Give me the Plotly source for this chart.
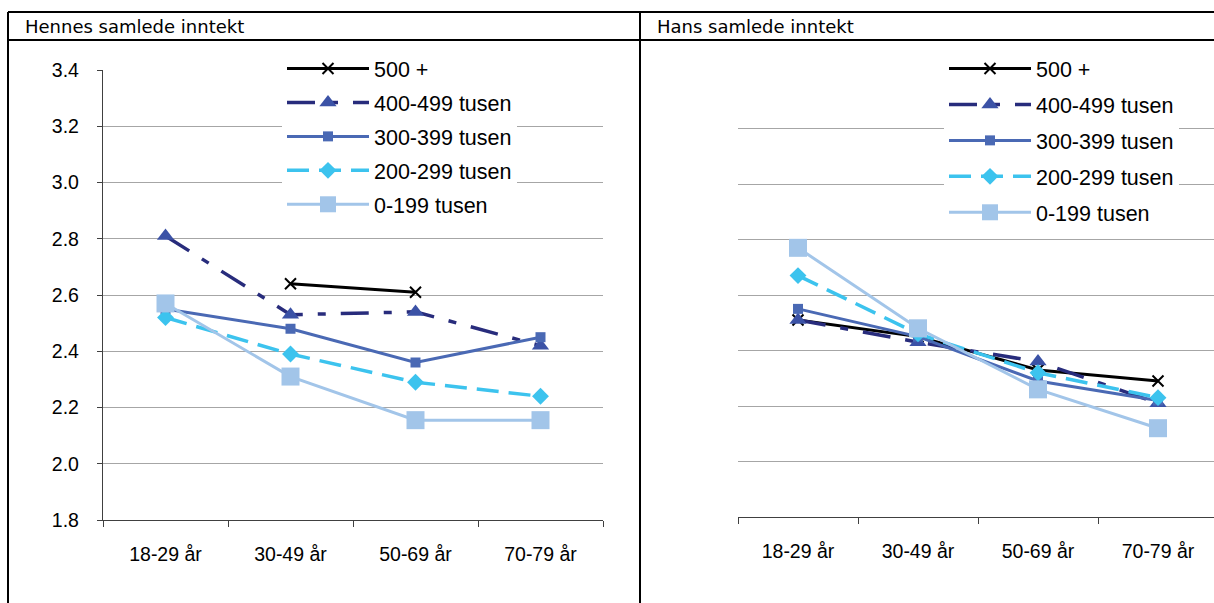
import plotly.graph_objects as go

W, H = 1214, 603

categories = ["18-29 år", "30-49 år", "50-69 år", "70-79 år"]
series_names = ["500 +", "400-499 tusen", "300-399 tusen", "200-299 tusen", "0-199 tusen"]

hennes_500 = [None, 2.64, 2.61, None]
hennes_400 = [2.81, 2.53, 2.54, 2.42]
hennes_300 = [2.55, 2.48, 2.36, 2.45]
hennes_200 = [2.52, 2.39, 2.29, 2.24]
hennes_0 = [2.57, 2.31, 2.155, 2.155]

hans_500 = [2.51, 2.45, 2.33, 2.29]
hans_400 = [2.51, 2.43, 2.36, 2.21]
hans_300 = [2.55, 2.45, 2.29, 2.22]
hans_200 = [2.67, 2.46, 2.32, 2.23]
hans_0 = [2.77, 2.48, 2.26, 2.12]

y_ticks = [1.8, 2.0, 2.2, 2.4, 2.6, 2.8, 3.0, 3.2, 3.4]
panel_titles = ["Hennes samlede inntekt", "Hans samlede inntekt"]

styles = [
    dict(line=dict(color="#000000", width=3), marker=dict(symbol="x-thin", size=11, color="#000000", line=dict(color="#000000", width=2))),
    dict(line=dict(color="#282C7C", width=3.5, dash="28px,15px,8px,15px"), marker=dict(symbol="triangle-up", size=15, color="#3B52A6")),
    dict(line=dict(color="#4A69B4", width=3), marker=dict(symbol="square", size=10, color="#4A69B4")),
    dict(line=dict(color="#3CC3EE", width=3.5, dash="22px,10px"), marker=dict(symbol="diamond", size=13, color="#3CC3EE")),
    dict(line=dict(color="#A2C5E9", width=3), marker=dict(symbol="square", size=18, color="#A2C5E9")),
]

fig = go.Figure()

def px_x(p):
    return p / W

def px_y(p):
    return 1 - p / H

panels = [
    ([hennes_500, hennes_400, hennes_300, hennes_200, hennes_0], "x", "y", "legend"),
    ([hans_500, hans_400, hans_300, hans_200, hans_0], "x2", "y2", "legend2"),
]
for data, xa, ya, lg in panels:
    for name, vals, st in zip(series_names, data, styles):
        fig.add_trace(go.Scatter(
            x=categories, y=vals, name=name, mode="lines+markers",
            line=st["line"], marker=st["marker"], xaxis=xa, yaxis=ya,
            legend=lg, legendgroup=lg + name, connectgaps=False,
        ))

xtick_font = dict(family="Liberation Sans, Arial", size=19.5, color="#000000")
ytick_font = dict(family="Liberation Sans, Arial", size=19.5, color="#000000")
legend_font = dict(family="Liberation Sans, Arial", size=21.5, color="#000000")
axis_common = dict(
    type="category", categoryorder="array", categoryarray=categories,
    showline=True, linecolor="#404040", linewidth=1.3,
    ticks="outside", tickson="boundaries", ticklen=6, tickcolor="#404040", tickwidth=1.3,
    showgrid=False, tickfont=xtick_font, zeroline=False, fixedrange=True,
    automargin=False, ticklabelstandoff=16,
)
fig.update_layout(
    template="none",
    width=W, height=H,
    margin=dict(l=0, r=0, t=0, b=0, pad=0),
    paper_bgcolor="white", plot_bgcolor="white",
    xaxis=dict(domain=[px_x(103), px_x(603)], range=[-0.5, 3.5], anchor="y", **axis_common),
    yaxis=dict(domain=[px_y(520), px_y(70)], range=[1.8, 3.4], tickvals=y_ticks,
               ticktext=[f"{v:.1f}" for v in y_ticks], showline=True, linecolor="#404040",
               linewidth=1.3, ticks="outside", ticklen=5, tickcolor="#404040",
               showgrid=True, gridcolor="#A6A6A6", gridwidth=1, tickfont=ytick_font,
               zeroline=False, anchor="x", fixedrange=True, automargin=False,
               ticklabelstandoff=14),
    xaxis2=dict(domain=[px_x(738), 1.0], range=[-0.5, -0.5 + (W - 738) / 120.0], anchor="y2", **axis_common),
    yaxis2=dict(domain=[px_y(517), px_y(73)], range=[1.8, 3.4], tickvals=y_ticks,
                showticklabels=False, showline=False, ticks="",
                showgrid=True, gridcolor="#A6A6A6", gridwidth=1,
                zeroline=False, anchor="x2", fixedrange=True, automargin=False),
    legend=dict(x=px_x(282), y=px_y(48), xanchor="left", yanchor="top",
                bgcolor="white", borderwidth=0, itemwidth=82, traceorder="grouped",
                tracegroupgap=3, font=legend_font,
                itemclick=False, itemdoubleclick=False),
    legend2=dict(x=px_x(944), y=px_y(48), xanchor="left", yanchor="top",
                 bgcolor="white", borderwidth=0, itemwidth=82, traceorder="grouped",
                 tracegroupgap=5, font=legend_font,
                 itemclick=False, itemdoubleclick=False),
    showlegend=True,
)

# legend box backgrounds (cover gridlines like the original legend frames)
for (x0, x1) in [(278, 556), (940, W)]:
    fig.add_shape(type="rect", xref="paper", yref="paper", layer="between",
                  x0=px_x(x0), x1=px_x(x1), y0=px_y(226), y1=px_y(50),
                  fillcolor="white", line=dict(width=0))

# panel frame
border = dict(color="#000000", width=2)
frame_lines = [
    (8, 12, 8, H), (8, 12, W, 12), (8, 40, W, 40), (640, 12, 640, H),
]
for x0, y0, x1, y1 in frame_lines:
    fig.add_shape(type="line", xref="paper", yref="paper",
                  x0=px_x(x0), y0=px_y(y0), x1=px_x(x1), y1=px_y(y1), line=border)

for title, xpos in zip(panel_titles, [23, 655]):
    fig.add_annotation(text=title, xref="paper", yref="paper", x=px_x(xpos), y=px_y(26),
                       xanchor="left", yanchor="middle", showarrow=False,
                       font=dict(family="DejaVu Sans", size=18, color="#000000"))

fig.write_html("out.html", config={"displayModeBar": False},
               post_script="document.body.style.margin='0';")
